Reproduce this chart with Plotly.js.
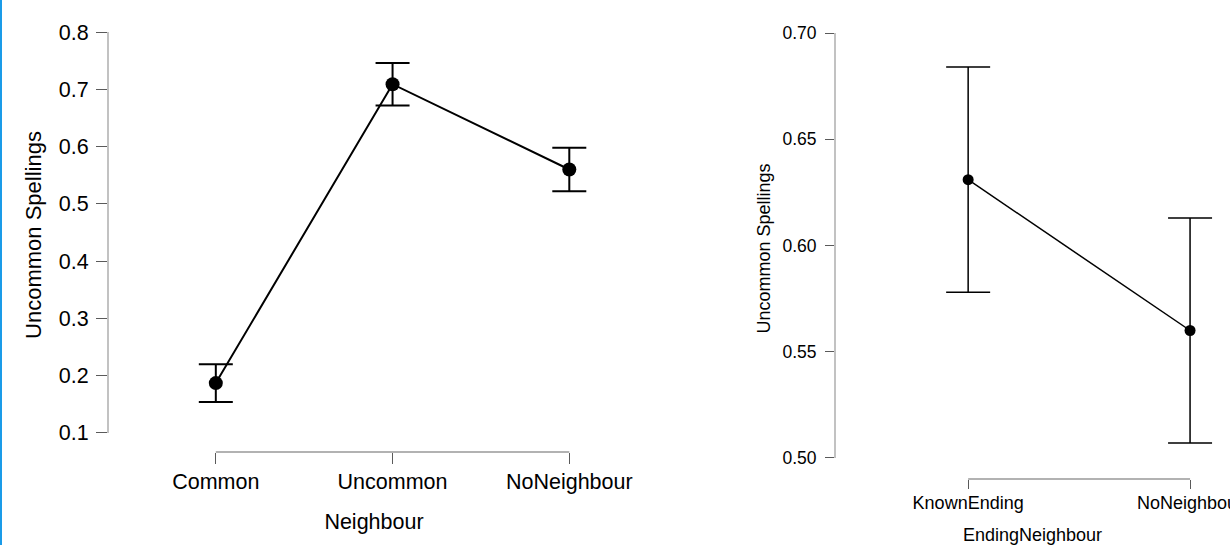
<!DOCTYPE html>
<html>
<head>
<meta charset="utf-8">
<script src="https://cdn.plot.ly/plotly-3.0.1.min.js"></script>
<style>
html,body{margin:0;padding:0;background:#fff;}
#chart{width:1230px;height:545px;position:relative;}
#edge{position:absolute;left:0;top:0;width:2px;height:545px;background:#1a9be8;z-index:10;}
</style>
</head>
<body>
<div id="edge"></div>
<div id="chart"></div>
<script>
// Left panel data
const neighbourCats = ["Common", "Uncommon", "NoNeighbour"];
const neighbourMeans = [0.187, 0.709, 0.560];
const neighbourErr = [0.033, 0.037, 0.038];
const leftYTicks = [0.1, 0.2, 0.3, 0.4, 0.5, 0.6, 0.7, 0.8];

// Right panel data
const endingCats = ["KnownEnding", "NoNeighbour"];
const endingMeans = [0.631, 0.560];
const endingErr = [0.053, 0.053];
const rightYTicks = [0.50, 0.55, 0.60, 0.65, 0.70];

const FONT = "Liberation Sans, Arial, sans-serif";
const W = 1230, H = 545;
const AXIS_LINE = "#999999";
const TICK_COL = "#5a5a5a";

const leftDomX = [108 / W, 640 / W];
const leftDomY = [1 - 452 / H, 1 - 18 / H];
const rightDomX = [835 / W, 1];
const rightDomY = [1 - 479 / H, 1 - 18 / H];
const leftYRange = [0.0667, 0.8246];
const rightYRange = [0.4901, 0.7071];

const traces = [
  {
    type: "scatter", mode: "lines+markers",
    x: neighbourCats, y: neighbourMeans,
    xaxis: "x", yaxis: "y",
    line: {color: "#000", width: 2},
    marker: {color: "#000", size: 14},
    error_y: {type: "data", array: neighbourErr, visible: true, color: "#000", thickness: 2, width: 17},
    showlegend: false, hoverinfo: "x+y"
  },
  {
    type: "scatter", mode: "lines+markers",
    x: endingCats, y: endingMeans,
    xaxis: "x2", yaxis: "y2",
    line: {color: "#000", width: 1.5},
    marker: {color: "#000", size: 11},
    error_y: {type: "data", array: endingErr, visible: true, color: "#000", thickness: 1.5, width: 22},
    showlegend: false, hoverinfo: "x+y"
  }
];

function xAx(domain, anchor, titleText, fs, tfs, tl, standoff, tlso) {
  return {
    domain: domain, anchor: anchor, type: "category",
    showgrid: false, zeroline: false, showline: false,
    ticks: "outside", ticklen: tl, tickcolor: TICK_COL, tickwidth: 1,
    tickfont: {family: FONT, size: fs, color: "#000"},
    ticklabelstandoff: tlso,
    title: {text: titleText, font: {family: FONT, size: tfs, color: "#000"}, standoff: standoff},
    fixedrange: true
  };
}
function yAx(domain, anchor, range, tickvals, titleText, fs, tfs, tl, standoff, fmt, tlso) {
  return {
    domain: domain, anchor: anchor, range: range,
    tickmode: "array", tickvals: tickvals, tickformat: fmt,
    showgrid: false, zeroline: false, showline: false,
    ticks: "outside", ticklen: tl, tickcolor: TICK_COL, tickwidth: 1,
    tickfont: {family: FONT, size: fs, color: "#000"},
    ticklabelstandoff: tlso,
    title: {text: titleText, font: {family: FONT, size: tfs, color: "#000"}, standoff: standoff},
    fixedrange: true
  };
}

const layout = {
  width: W, height: H,
  margin: {l: 0, r: 0, t: 0, b: 0, pad: 0},
  paper_bgcolor: "#fff", plot_bgcolor: "#fff",
  showlegend: false,
  xaxis: Object.assign(xAx(leftDomX, "y", "Neighbour", 21.5, 21.5, 11, 21, -1), {range: [-0.61, 2.4]}),
  yaxis: yAx(leftDomY, "x", leftYRange, leftYTicks, "Uncommon Spellings", 21.5, 22, 11, 11, ".1f", 3),
  xaxis2: Object.assign(xAx(rightDomX, "y2", "EndingNeighbour", 18, 18, 9, 25, -2), {range: [-0.6, 1.18]}),
  yaxis2: yAx(rightDomY, "x2", rightYRange, rightYTicks, "Uncommon Spellings", 17.5, 18, 9, 7, ".2f", 5),
  shapes: [
    // left x axis line spanning first to last category
    {type: "line", layer: "above", xref: "x", yref: "paper", x0: 0, x1: neighbourCats.length - 1, y0: leftDomY[0], y1: leftDomY[0], line: {color: AXIS_LINE, width: 1.5}},
    // left y axis line spanning tick range
    {type: "line", layer: "above", xref: "paper", yref: "y", x0: leftDomX[0], x1: leftDomX[0], y0: Math.min(...leftYTicks), y1: Math.max(...leftYTicks), line: {color: AXIS_LINE, width: 1.2}},
    // right x axis line
    {type: "line", layer: "above", xref: "x2", yref: "paper", x0: 0, x1: endingCats.length - 1, y0: rightDomY[0], y1: rightDomY[0], line: {color: AXIS_LINE, width: 1.5}},
    // right y axis line
    {type: "line", layer: "above", xref: "paper", yref: "y2", x0: rightDomX[0], x1: rightDomX[0], y0: Math.min(...rightYTicks), y1: Math.max(...rightYTicks), line: {color: AXIS_LINE, width: 1.2}}
  ]
};

Plotly.newPlot("chart", traces, layout, {displayModeBar: false, staticPlot: true});
</script>
</body>
</html>
